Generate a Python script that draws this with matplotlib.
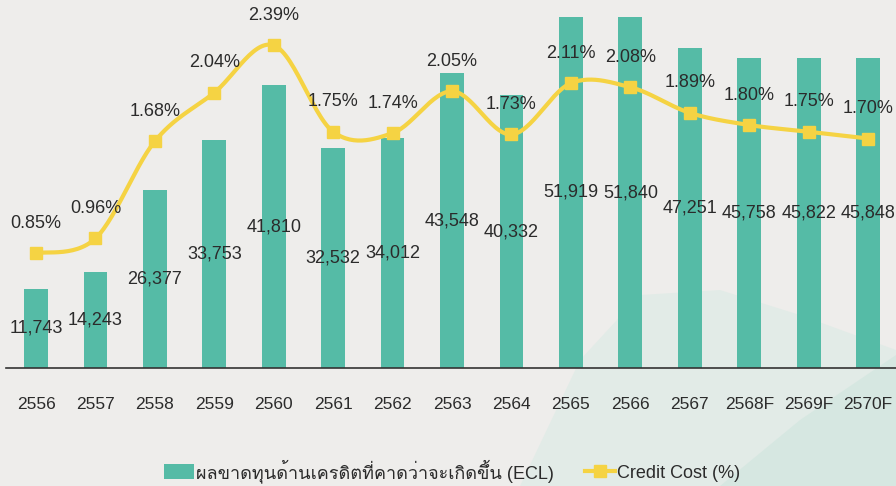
import numpy as np
import matplotlib
matplotlib.use("Agg")
import matplotlib.pyplot as plt
from matplotlib import font_manager
from matplotlib.ft2font import FT2Font
from matplotlib.patches import Polygon, Patch
from matplotlib.lines import Line2D

# data
years = ["2556", "2557", "2558", "2559", "2560", "2561", "2562", "2563",
         "2564", "2565", "2566", "2567", "2568F", "2569F", "2570F"]
ecl = [11743, 14243, 26377, 33753, 41810, 32532, 34012, 43548,
       40332, 51919, 51840, 47251, 45758, 45822, 45848]
credit_cost = [0.85, 0.96, 1.68, 2.04, 2.39, 1.75, 1.74, 2.05,
               1.73, 2.11, 2.08, 1.89, 1.80, 1.75, 1.70]
ecl_label = "ผลขาดทุนด้านเครดิตที่คาดว่าจะเกิดขึ้น (ECL)"
cc_label = "Credit Cost (%)"

BAR = "#55BBA6"
LINE = "#F5D343"
TEXT = "#2B2B2B"
BG = "#EEEDEB"


def find_thai_font():
    for f in font_manager.fontManager.ttflist:
        try:
            if 0x0E1C in FT2Font(f.fname).get_charmap():
                return f.name
        except Exception:
            pass
    return None


thai = find_thai_font()
families = ["Liberation Sans"] + ([thai] if thai else []) + ["DejaVu Sans"]
plt.rcParams["font.family"] = families

fig = plt.figure(figsize=(8.96, 4.86), dpi=100, facecolor=BG)

# faint teal wash in the lower right corner (background only)
bg = fig.add_axes([0, 0, 1, 1], zorder=-5)
bg.set_xlim(0, 896)
bg.set_ylim(486, 0)
bg.axis("off")
bg.add_patch(Polygon([(520, 486), (580, 360), (640, 295), (720, 290), (800, 315),
                      (896, 350), (896, 486)],
                     closed=True, facecolor="#D9EAE4", alpha=0.55, edgecolor="none"))
bg.add_patch(Polygon([(720, 486), (800, 420), (896, 355), (896, 486)],
                     closed=True, facecolor="#CBE4DC", alpha=0.5, edgecolor="none"))

ax = fig.add_axes([6 / 896, 1 - 368 / 486, 890 / 896, 368 / 486])
ax.patch.set_alpha(0)
x = np.arange(len(years))
ax.bar(x, ecl, width=0.4, color=BAR, zorder=2)
ax.set_xlim(-0.505, 14.47)
ax.set_ylim(0, 54400)
ax.set_xticks(x)
ax.set_xticklabels(years, fontsize=12.5, color=TEXT)
ax.tick_params(axis="x", length=0, pad=21)
ax.set_yticks([])
for s in ["top", "left", "right"]:
    ax.spines[s].set_visible(False)
ax.spines["bottom"].set_color("#333333")
ax.spines["bottom"].set_linewidth(1.2)

for xi, v in zip(x, ecl):
    ax.text(xi, v / 2, f"{v:,}", ha="center", va="center", fontsize=13, color=TEXT, zorder=4)

ax2 = ax.twinx()
ax2.set_ylim(0, 2.726)
ax2.set_yticks([])
for s in ax2.spines.values():
    s.set_visible(False)

# smooth curve (Catmull-Rom in screen space, like a spreadsheet's smoothed line)
fig.canvas.draw()
pts = ax2.transData.transform(np.column_stack([x, credit_cost]))
P = np.vstack([pts[0], pts, pts[-1]])
curve = []
t = np.linspace(0, 1, 30)[:, None]
for i in range(1, len(P) - 2):
    p0, p1, p2, p3 = P[i - 1], P[i], P[i + 1], P[i + 2]
    seg = 0.5 * ((2 * p1) + (-p0 + p2) * t + (2 * p0 - 5 * p1 + 4 * p2 - p3) * t ** 2
                 + (-p0 + 3 * p1 - 3 * p2 + p3) * t ** 3)
    curve.append(seg)
curve = ax2.transData.inverted().transform(np.vstack(curve))
ax2.plot(curve[:, 0], curve[:, 1], color=LINE, lw=3, zorder=3, solid_capstyle="round")
ax2.plot(x, credit_cost, ls="none", marker="s", ms=8, color=LINE, zorder=4)

for xi, v in zip(x, credit_cost):
    ax2.annotate(f"{v:.2f}%", (xi, v), xytext=(0, 21.5), textcoords="offset points",
                 ha="center", va="center", fontsize=13, color=TEXT, zorder=5)

handles = [Patch(facecolor=BAR, edgecolor="none"),
           Line2D([0], [0], color=LINE, lw=3, marker="s", ms=8)]
fig.legend(handles, [ecl_label, cc_label], loc="center", bbox_to_anchor=(452 / 896, 15 / 486),
           ncol=2, frameon=False, fontsize=13, handlelength=1.7, handleheight=0.9,
           handletextpad=0.1, columnspacing=1.7, labelcolor=TEXT)

fig.savefig("out.png", dpi=100, facecolor=BG)
